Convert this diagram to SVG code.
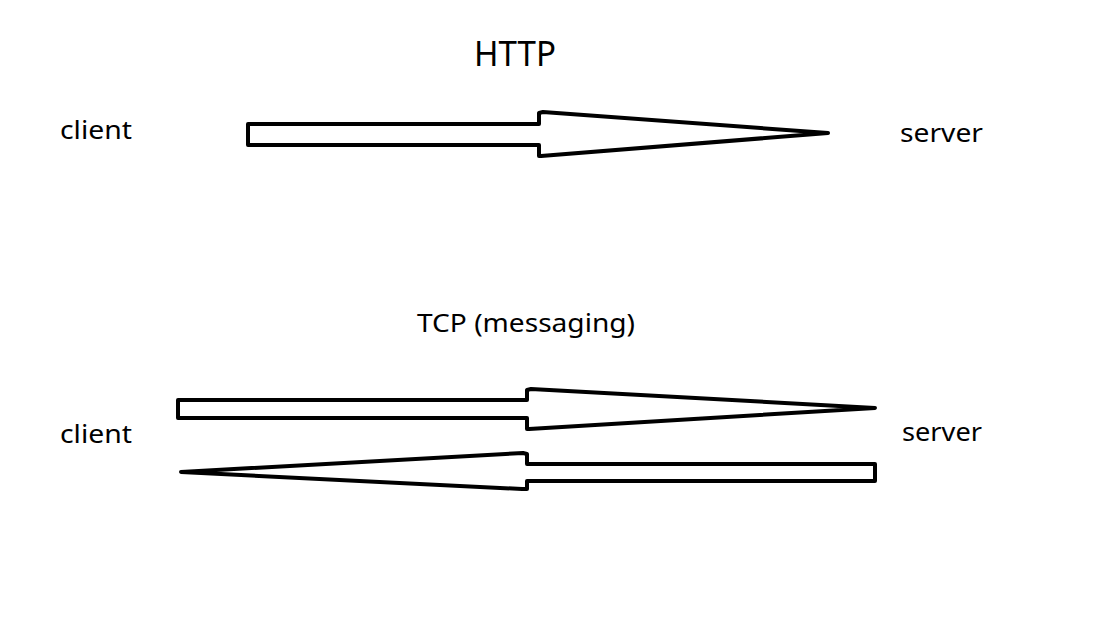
<svg xmlns="http://www.w3.org/2000/svg" width="1118" height="633" viewBox="0 0 1118 633">
<style>
.t{font-family:"Noto Sans","Open Sans",sans-serif;fill:#000}
.a{fill:#fff;stroke:#000;stroke-width:4;stroke-linejoin:round}
</style>
<rect width="1118" height="633" fill="#fff"/>
<g id="title-http"><text class="t" x="474" y="66" font-size="34" textLength="82" lengthAdjust="spacingAndGlyphs">HTTP</text></g>
<g id="client1"><text class="t" x="60" y="139" font-size="26" textLength="72" lengthAdjust="spacingAndGlyphs">client</text></g>
<g id="server1"><text class="t" x="900" y="142" font-size="26" textLength="83" lengthAdjust="spacingAndGlyphs">server</text></g>
<g id="title-tcp"><text class="t" x="417" y="332" font-size="25" textLength="218" lengthAdjust="spacingAndGlyphs">TCP (messaging)</text></g>
<g id="client2"><text class="t" x="60" y="443" font-size="26" textLength="72" lengthAdjust="spacingAndGlyphs">client</text></g>
<g id="server2"><text class="t" x="902" y="441" font-size="26" textLength="80" lengthAdjust="spacingAndGlyphs">server</text></g>
<g id="connectors">
<path class="a" d="M248,124 L539,124 L539,113 L543,112 L828,133 L541,156 L539,156 L539,145 L248,145 Z"/>
<path class="a" d="M178,400 L527,400 L527,390 L531,389 L875,408 L529,429 L527,429 L527,418 L178,418 Z"/>
<path class="a" d="M875,464 L527,464 L527,454 L523,453 L181,472 L522,489 L527,489 L527,481 L875,481 Z"/>
</g>
</svg>
